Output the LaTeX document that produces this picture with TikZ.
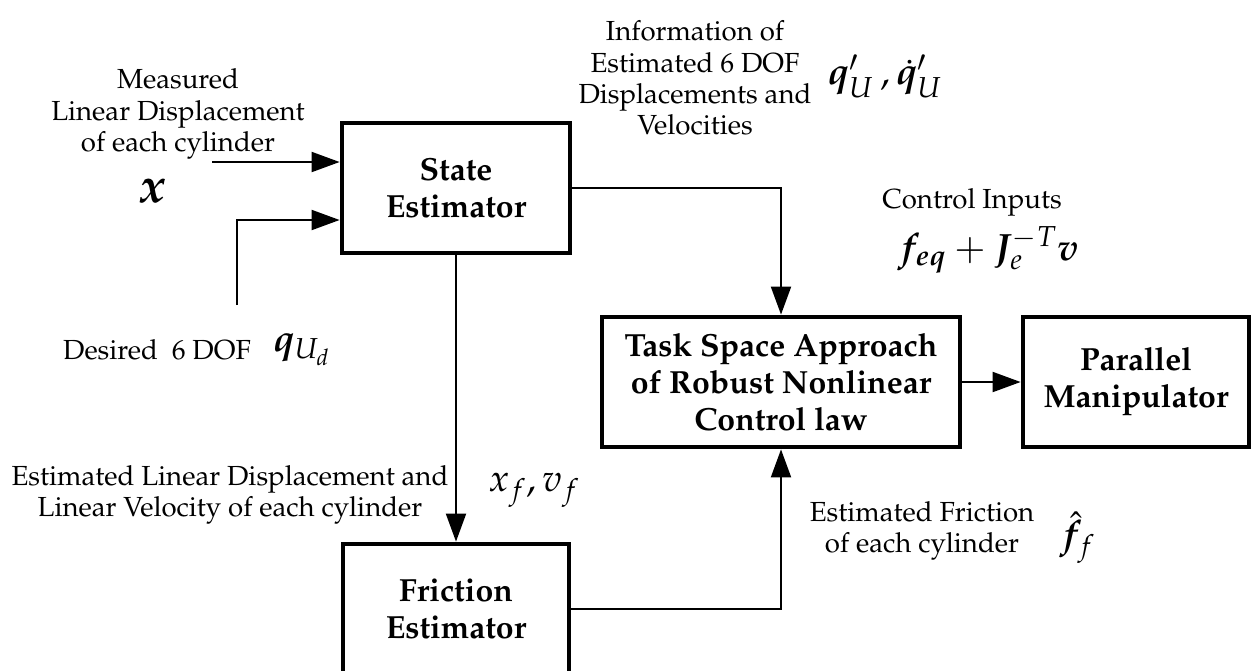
\documentclass[tikz,border=0pt]{standalone}
\usepackage[T1]{fontenc}
\usepackage{mathpazo}
\usepackage{amsmath}
\usepackage{bm}
\usetikzlibrary{arrows.meta}
\begin{document}
\begin{tikzpicture}[x=0.5pt,y=-0.5pt,
  block/.style={draw=black, line width=2.4pt, fill=white, align=center, inner sep=0pt,
    minimum height=65pt, font=\fontsize{16}{18.5}\selectfont\bfseries},
  lbl/.style={align=center, inner sep=0pt, font=\fontsize{13.8}{15.6}\selectfont},
  mlbl/.style={inner sep=0pt, font=\fontsize{19}{22}\selectfont},
  link/.style={line width=1pt, -{Triangle[length=14pt,width=10pt]}}]
\useasboundingbox (0,0) rectangle (1252,670);
\fill[white] (0,0) rectangle (1252,670);

% blocks
\node[block, minimum width=114pt] (state) at (456,188) {State\\Estimator};
\node[block, minimum width=113pt] (fric) at (456,609) {Friction\\Estimator};
\node[block, minimum width=179pt] (task) at (781,382) {Task Space Approach\\of Robust Nonlinear\\Control law};
\node[block, minimum width=113pt] (manip) at (1136,382) {Parallel\\Manipulator};

% inputs of the state estimator
\coordinate (xin) at (212,162);
\draw[link] (xin) -- (xin -| state.west);
\coordinate (qd) at (237,305);
\coordinate (qdk) at (237,220);
\draw[link] (qd) -- (qdk) -- (qdk -| state.west);

% signal paths between blocks
\draw[link] (state.east) -| (task.north);
\draw[link] (state.south) -- (fric.north);
\draw[link] (fric.east) -| (task.south);
\draw[link] (task.east) -- (manip.west);

% labels
\node[lbl] (lmeas) at (178,114) {Measured\\Linear Displacement\\of each cylinder};
\node[mlbl, font=\fontsize{25}{28}\selectfont] (mx) at (153,191) {$\bm{x}$};
\node[lbl] (linfo) at (695,78) {Information of\\Estimated 6 DOF\\Displacements and\\Velocities};
\node[mlbl] (mq) at (885,76) {$\bm{q}'_{U}\,,\dot{\bm{q}}'_{U}$};
\node[lbl] (lctrl) at (972,202) {Control Inputs};
\node[mlbl] (mctrl) at (988,250) {$\bm{f}_{\bm{eq}}+\bm{J}_{e}^{-T}\bm{v}$};
\node[lbl] (ldes) at (157,350) {Desired\ \ 6 DOF};
\node[mlbl] (mqd) at (302,350) {$\bm{q}_{U_d}$};
\node[lbl] (lest) at (230,495) {Estimated Linear Displacement and\\Linear Velocity of each cylinder};
\node[mlbl] (mxv) at (534,490) {$x_f,v_f$};
\node[lbl] (lfric) at (922,531) {Estimated Friction\\of each cylinder};
\node[mlbl] (mf) at (1077,538) {$\hat{\bm{f}}_f$};
\end{tikzpicture}
\end{document}
